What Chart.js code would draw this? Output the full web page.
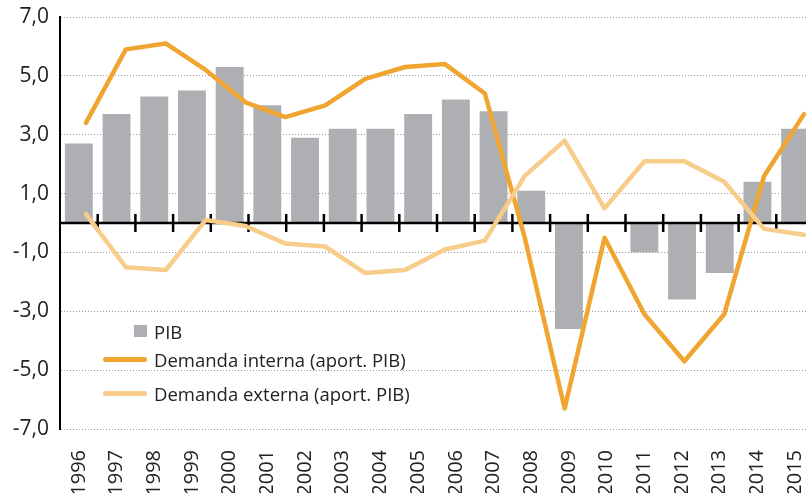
<!DOCTYPE html>
<html>
<head>
<meta charset="utf-8">
<script src="https://cdn.jsdelivr.net/npm/chart.js@4.4.0/dist/chart.umd.min.js"></script>
<style>
html, body { margin: 0; padding: 0; background: #fff; overflow: hidden; }
#wrap { position: relative; width: 814px; height: 493px; }
#legend { position: absolute; left: 0; top: 0; font-family: "Open Sans", sans-serif; font-size: 18.5px; color: #222; }
.item { position: absolute; left: 102px; height: 24px; display: flex; align-items: center; white-space: nowrap; }
.swatch { width: 45px; height: 24px; display: flex; align-items: center; justify-content: flex-end; margin-right: 7px; }
</style>
</head>
<body>
<div id="wrap">
  <canvas id="chart" width="814" height="493"></canvas>
  <div id="legend"></div>
</div>
<script>
// years for the bars
var years = ['1996', '1997', '1998', '1999', '2000', '2001', '2002', '2003', '2004', '2005',
             '2006', '2007', '2008', '2009', '2010', '2011', '2012', '2013', '2014', '2015'];
var pib = [2.7, 3.7, 4.3, 4.5, 5.3, 4.0, 2.9, 3.2, 3.2, 3.7,
           4.2, 3.8, 1.1, -3.6, 0.0, -1.0, -2.6, -1.7, 1.4, 3.2];

// the two contribution lines start one year later in the original
var lineYears = [1997, 1998, 1999, 2000, 2001, 2002, 2003, 2004, 2005, 2006,
                 2007, 2008, 2009, 2010, 2011, 2012, 2013, 2014, 2015];
var interna = [3.4, 5.9, 6.1, 5.2, 4.1, 3.6, 4.0, 4.9, 5.3, 5.4,
               4.4, -0.5, -6.3, -0.5, -3.1, -4.7, -3.1, 1.6, 3.7];
var externa = [0.3, -1.5, -1.6, 0.1, -0.1, -0.7, -0.8, -1.7, -1.6, -0.9,
               -0.6, 1.6, 2.8, 0.5, 2.1, 2.1, 1.4, -0.2, -0.4];

var yTicks = [-7, -5, -3, -1, 1, 3, 5, 7];

var colPib = '#AEAFB2';
var colInterna = '#EFA52F';
var colExterna = '#F8CC8A';

function toPoints(xs, ys) {
    return ys.map(function(v, i) { return { x: xs[i], y: v }; });
}

// zero line with the category tick marks, drawn right after the bars
var zeroAxis = {
    id: 'zeroAxis',
    afterDatasetDraw: function(chart, args) {
        if (args.index !== 0) return;
        var ctx = chart.ctx;
        var x = chart.scales.x, y = chart.scales.y;
        var y0 = y.getPixelForValue(0);
        ctx.save();
        ctx.strokeStyle = '#000';
        ctx.lineWidth = 2.5;
        ctx.beginPath();
        ctx.moveTo(chart.chartArea.left, y0);
        ctx.lineTo(chart.chartArea.right, y0);
        for (var i = 1; i < years.length; i++) {
            var bx = (x.getPixelForValue(i - 1) + x.getPixelForValue(i)) / 2;
            ctx.moveTo(bx, y0 - 9);
            ctx.lineTo(bx, y0 + 9);
        }
        ctx.stroke();
        ctx.restore();
    }
};

var chart = new Chart(document.getElementById('chart'), {
    type: 'bar',
    data: {
        labels: years,
        datasets: [
            {
                type: 'bar',
                label: 'PIB',
                data: pib,
                backgroundColor: colPib,
                barPercentage: 0.74,
                categoryPercentage: 1,
                grouped: false,
                xAxisID: 'x',
                order: 3
            },
            {
                type: 'line',
                label: 'Demanda interna (aport. PIB)',
                data: toPoints(lineYears, interna),
                borderColor: colInterna,
                backgroundColor: colInterna,
                borderWidth: 4.5,
                borderCapStyle: 'round',
                borderJoinStyle: 'round',
                pointRadius: 0,
                tension: 0,
                xAxisID: 'xl',
                order: 2
            },
            {
                type: 'line',
                label: 'Demanda externa (aport. PIB)',
                data: toPoints(lineYears, externa),
                borderColor: colExterna,
                backgroundColor: colExterna,
                borderWidth: 4.5,
                borderCapStyle: 'round',
                borderJoinStyle: 'round',
                pointRadius: 0,
                tension: 0,
                xAxisID: 'xl',
                order: 1
            }
        ]
    },
    options: {
        responsive: false,
        animation: false,
        layout: { padding: { top: 17, right: 0, bottom: 0, left: 0 } },
        plugins: {
            legend: { display: false },
            tooltip: { enabled: false }
        },
        scales: {
            x: {
                type: 'category',
                grid: { display: false },
                border: { display: false },
                ticks: {
                    minRotation: 90,
                    maxRotation: 90,
                    padding: 13,
                    color: '#222',
                    font: { family: 'Open Sans', size: 20 }
                },
                afterFit: function(s) {
                    s.height = 64;
                    s.paddingLeft = 0;
                    s.paddingRight = 0;
                }
            },
            xl: {
                type: 'linear',
                display: false,
                offset: false,
                min: 1996.35,
                max: 2015.25
            },
            y: {
                min: -7,
                max: 7,
                afterBuildTicks: function(s) {
                    s.ticks = yTicks.map(function(v) { return { value: v }; });
                },
                grid: { color: '#999', lineWidth: 1, drawTicks: false },
                border: { display: true, color: '#000', width: 2, dash: [1, 2] },
                ticks: {
                    padding: 11,
                    color: '#222',
                    font: { family: 'Open Sans', size: 21 },
                    callback: function(v) { return v.toFixed(1).replace('.', ','); }
                },
                afterFit: function(s) {
                    s.width = 60;
                    s.paddingTop = 0;
                    s.paddingBottom = 0;
                }
            }
        }
    },
    plugins: [zeroAxis]
});

// legend inside the plot, lower left
var rowCenters = [331, 359, 393];
var legendEl = document.getElementById('legend');
chart.data.datasets.forEach(function(ds, i) {
    var item = document.createElement('div');
    item.className = 'item';
    item.style.top = (rowCenters[i] - 12) + 'px';
    var sw = document.createElement('span');
    sw.className = 'swatch';
    var mark = document.createElement('span');
    if (ds.type === 'bar') {
        mark.style.cssText = 'display:block;width:13px;height:12px;background:' + ds.backgroundColor;
    } else {
        mark.style.cssText = 'display:block;width:44px;height:5px;border-radius:3px;background:' + ds.borderColor;
    }
    sw.appendChild(mark);
    var txt = document.createElement('span');
    txt.textContent = ds.label;
    item.appendChild(sw);
    item.appendChild(txt);
    legendEl.appendChild(item);
});
</script>
</body>
</html>
